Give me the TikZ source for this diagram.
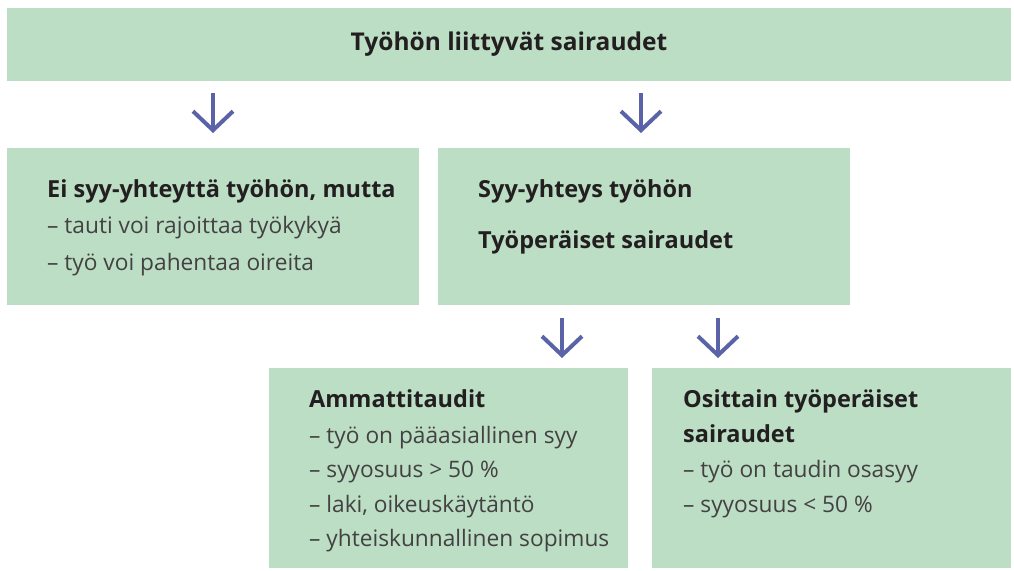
\documentclass[tikz,border=0pt]{standalone}
\usepackage{fontspec}
\setmainfont{Open Sans}
\usetikzlibrary{arrows.meta}
\definecolor{boxgreen}{HTML}{BBDEC5}
\definecolor{arrowblue}{HTML}{5A62A8}
\definecolor{textdark}{HTML}{231F20}
\tikzset{
  box/.style={fill=boxgreen, draw=none, anchor=north west, inner sep=0pt},
  head/.style={font=\fontsize{23.5}{28}\selectfont\bfseries, text=textdark, anchor=base west, inner sep=0pt},
  item/.style={font=\fontsize{22.7}{27}\selectfont, text=textdark!85, anchor=base west, inner sep=0pt},
  arr/.style={arrowblue, line width=4pt, -{Straight Barb[length=19pt,width=40pt]}}
}
\begin{document}
\begin{tikzpicture}[x=1pt,y=-1pt]
  \useasboundingbox (0,0) rectangle (1014,570);

  % Boxes
  \node[box, minimum width=1004pt, minimum height=73pt] (top) at (7,8) {};
  \node[box, minimum width=412pt, minimum height=157pt] (ein) at (7,148) {};
  \node[box, minimum width=412pt, minimum height=157pt] (syy) at (438,148) {};
  \node[box, minimum width=359pt, minimum height=200pt] (amm) at (269,368) {};
  \node[box, minimum width=359pt, minimum height=200pt] (osi) at (652,368) {};

  % Texts
  \node[font=\fontsize{24.5}{29}\selectfont\bfseries, text=textdark, anchor=base, inner sep=0pt] (title) at (509,50) {Työhön liittyvät sairaudet};

  \node[head] (ein1) at (47,197) {Ei syy-yhteyttä työhön, mutta};
  \node[item] (ein2) at (47,233) {– tauti voi rajoittaa työkykyä};
  \node[item] (ein3) at (47,270) {– työ voi pahentaa oireita};

  \node[head] (syy1) at (478,197) {Syy-yhteys työhön};
  \node[head] (syy2) at (478,248) {Työperäiset sairaudet};

  \node[head] (amm1) at (309,407) {Ammattitaudit};
  \node[item] (amm2) at (309,443) {– työ on pääasiallinen syy};
  \node[item] (amm3) at (309,477) {– syyosuus > 50 \%};
  \node[item] (amm4) at (309,512) {– laki, oikeuskäytäntö};
  \node[item] (amm5) at (309,546) {– yhteiskunnallinen sopimus};

  \node[head] (osi1) at (683,407) {Osittain työperäiset};
  \node[head] (osi2) at (683,442) {sairaudet};
  \node[item] (osi3) at (683,477) {– työ on taudin osasyy};
  \node[item] (osi4) at (683,512) {– syyosuus < 50 \%};

  % Arrows
  \coordinate (a1) at (213,93);
  \coordinate (a2) at (641,93);
  \coordinate (a3) at (562,318);
  \coordinate (a4) at (718,318);
  \draw[arr] (a1) -- ++(0,40);
  \draw[arr] (a2) -- ++(0,40);
  \draw[arr] (a3) -- ++(0,40);
  \draw[arr] (a4) -- ++(0,40);
\end{tikzpicture}
\end{document}
